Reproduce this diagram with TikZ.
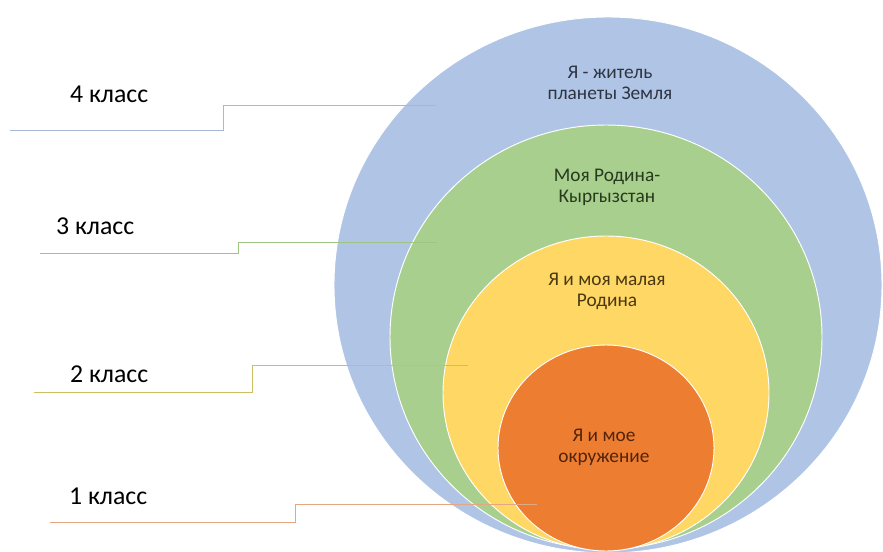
\documentclass[tikz,border=0pt]{standalone}
\usepackage{fontspec}
\setmainfont{Carlito}
\definecolor{earthblue}{RGB}{176,197,230}
\definecolor{homegreen}{RGB}{168,207,142}
\definecolor{smallyellow}{RGB}{255,215,100}
\definecolor{meorange}{RGB}{237,125,49}
\definecolor{bluetext}{RGB}{45,52,66}
\definecolor{greentext}{RGB}{38,58,28}
\definecolor{yellowtext}{RGB}{72,56,18}
\definecolor{orangetext}{RGB}{82,36,10}
\definecolor{blueline}{RGB}{165,184,218}
\definecolor{greenline}{RGB}{160,196,130}
\definecolor{yellowline}{RGB}{205,190,100}
\definecolor{orangeline}{RGB}{228,168,128}
\begin{document}
\begin{tikzpicture}[x=0.03cm, y=-0.03cm,
  ring/.style = {draw=white, line width=0.8pt},
  inner/.style = {align=center, font=\fontsize{16.5}{18}\selectfont},
  grade/.style = {anchor=west, font=\fontsize{22}{26}\selectfont},
  leader/.style = {line width=0.7pt}]
  \useasboundingbox (0,0) rectangle (883,552);
  % nested circles
  \fill[earthblue, ring] (608,285) ellipse [x radius=274, y radius=268];
  \fill[homegreen, ring] (606,337) ellipse [x radius=216, y radius=212];
  \fill[smallyellow, ring] (606,393) ellipse [x radius=163, y radius=157];
  \fill[meorange, ring] (606,448) ellipse [x radius=108, y radius=103];
  \node[inner, text=bluetext] (earth) at (610,83) {Я - житель\\планеты Земля};
  \node[inner, text=greentext] (country) at (607,187) {Моя Родина-\\Кыргызстан};
  \node[inner, text=yellowtext] (region) at (607,291) {Я и моя малая\\Родина};
  \node[inner, text=orangetext] (surround) at (604,447) {Я и мое\\окружение};
  % grades
  \node[grade] (g4) at (66,94) {4 класс};
  \node[grade] (g3) at (52,226) {3 класс};
  \node[grade] (g2) at (66,374) {2 класс};
  \node[grade] (g1) at (65,496) {1 класс};
  \coordinate (g4a) at (10,130);  \coordinate (g4b) at (223,105); \coordinate (g4c) at (436,105);
  \coordinate (g3a) at (40,253);  \coordinate (g3b) at (238,242); \coordinate (g3c) at (437,242);
  \coordinate (g2a) at (34,392);  \coordinate (g2b) at (252,365); \coordinate (g2c) at (468,365);
  \coordinate (g1a) at (50,522);  \coordinate (g1b) at (295,504); \coordinate (g1c) at (537,504);
  \draw[leader, blueline] (g4a) -| (g4b) -- (g4c);
  \draw[leader, greenline] (g3a) -| (g3b) -- (g3c);
  \draw[leader, yellowline] (g2a) -| (g2b) -- (g2c);
  \draw[leader, orangeline] (g1a) -| (g1b) -- (g1c);
\end{tikzpicture}
\end{document}
